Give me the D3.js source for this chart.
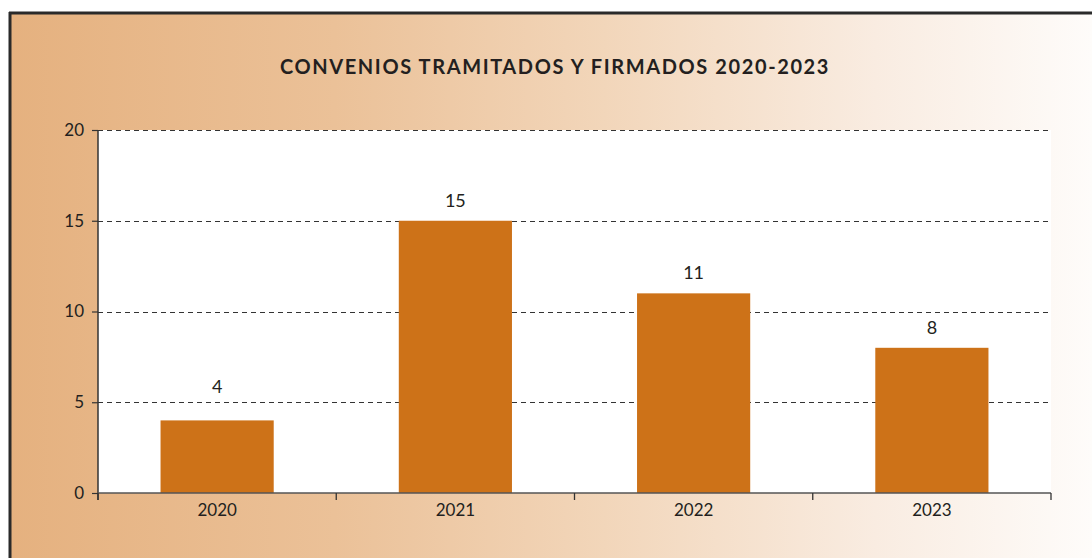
<!DOCTYPE html>
<html><head><meta charset="utf-8">
<script src="https://cdn.jsdelivr.net/npm/d3@7"></script>
<style>body{margin:0;background:#fff;}svg{display:block;}</style>
</head><body>
<svg id="c" width="1092" height="558"></svg>
<script>
const title = "CONVENIOS TRAMITADOS Y FIRMADOS 2020-2023";
const years = ["2020","2021","2022","2023"];
const values = [4, 15, 11, 8];
const yTicks = [0, 5, 10, 15, 20];

const svg = d3.select("#c");
const W = 1092, H = 558;
const defs = svg.append("defs");
const g = defs.append("linearGradient").attr("id","bg").attr("x1","0").attr("x2","1").attr("y1","0").attr("y2","0");
g.append("stop").attr("offset","0").attr("stop-color","#e5b17f");
g.append("stop").attr("offset","0.3").attr("stop-color","#ebc198");
g.append("stop").attr("offset","0.55").attr("stop-color","#f2d6ba");
g.append("stop").attr("offset","0.8").attr("stop-color","#f9ece1");
g.append("stop").attr("offset","1").attr("stop-color","#fefcfa");

svg.append("rect").attr("x",10).attr("y",13).attr("width",W-10).attr("height",H-13).attr("fill","url(#bg)");
svg.append("line").attr("x1",10).attr("x2",10).attr("y1",12).attr("y2",H).attr("stroke","#2a2a2a").attr("stroke-width",3);
svg.append("line").attr("x1",9).attr("x2",W).attr("y1",13).attr("y2",13).attr("stroke","#2a2a2a").attr("stroke-width",3);

const m = {l:98, r:1051, t:130, b:493};
const x = d3.scaleBand().domain(years).range([m.l, m.r]).padding(0);
const y = d3.scaleLinear().domain([0,20]).range([m.b, m.t]);

svg.append("rect").attr("x",m.l).attr("y",m.t).attr("width",m.r-m.l).attr("height",m.b-m.t).attr("fill","#fff");

const font = "'Lato', 'Open Sans', sans-serif";

svg.append("text").attr("x",555).attr("y",74).attr("text-anchor","middle")
  .attr("font-family",font).attr("font-weight","bold").attr("font-size",20).attr("letter-spacing",1.6)
  .attr("fill","#231f20").text(title);

// gridlines
svg.append("g").selectAll("line").data(yTicks.filter(d=>d>0)).join("line")
  .attr("x1",m.l).attr("x2",m.r).attr("y1",d=>Math.round(y(d))+0.5).attr("y2",d=>Math.round(y(d))+0.5)
  .attr("stroke","#333").attr("stroke-width",1).attr("stroke-dasharray","5,4");

// bars
const bw = x.bandwidth()*0.475;
svg.append("g").selectAll("rect").data(values).join("rect")
  .attr("x",(d,i)=>x(years[i])+x.bandwidth()/2-bw/2)
  .attr("y",d=>y(d)).attr("width",bw).attr("height",d=>y(0)-y(d)).attr("fill","#cd7218");

// value labels (moved above a gridline when they would cross it)
function labelY(d){
  let base = y(d) - 14;
  const top = base - 14;
  yTicks.forEach(t => { const gy = y(t); if (gy > top && gy < base + 2) base = gy - 9; });
  return base;
}
svg.append("g").selectAll("text").data(values).join("text")
  .attr("x",(d,i)=>x(years[i])+x.bandwidth()/2).attr("y",labelY)
  .attr("text-anchor","middle").attr("font-family",font).attr("font-size",18).attr("fill","#231f20").text(d=>d);

// y axis
const ya = svg.append("g").attr("transform",`translate(${m.l},0)`)
  .call(d3.axisLeft(y).tickValues(yTicks).tickSize(6).tickPadding(8));
ya.select(".domain").remove();
ya.append("line").attr("x1",0).attr("x2",0).attr("y1",m.t).attr("y2",m.b+7).attr("stroke","#333").attr("stroke-width",1.5);
ya.selectAll(".tick line").attr("stroke","#333").attr("stroke-width",1.2);
ya.selectAll("text").attr("font-family",font).attr("font-size",17).attr("fill","#231f20");

// x axis
const xa = svg.append("g").attr("transform",`translate(0,${m.b})`)
  .call(d3.axisBottom(x).tickSize(0).tickPadding(11));
xa.select(".domain").remove();
xa.append("line").attr("x1",m.l).attr("x2",m.r).attr("y1",0).attr("y2",0).attr("stroke","#555").attr("stroke-width",1.5);
xa.selectAll(".tick text").attr("font-family",font).attr("font-size",17).attr("fill","#231f20");
const bounds = years.map(d=>x(d)).concat([m.r]);
xa.append("g").selectAll("line").data(bounds).join("line")
  .attr("x1",d=>d).attr("x2",d=>d).attr("y1",0).attr("y2",7).attr("stroke","#333").attr("stroke-width",1.3);
</script>
</body></html>
